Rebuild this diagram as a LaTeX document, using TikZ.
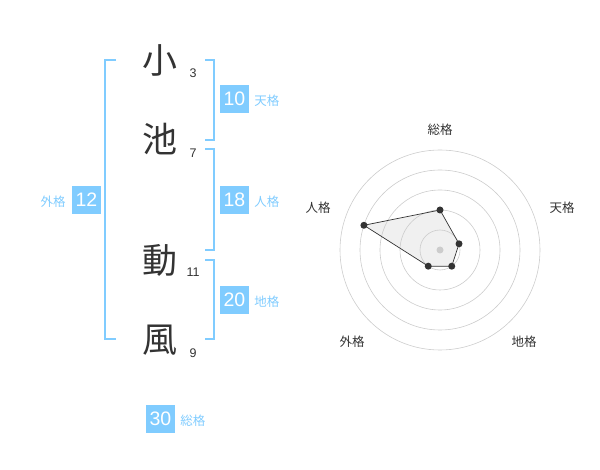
\documentclass[tikz,border=0pt]{standalone}
\usepackage{fontspec}
\setmainfont{Liberation Sans}
\newfontfamily\jpfont{Noto Sans CJK JP}
\usetikzlibrary{positioning}
\definecolor{kakublue}{HTML}{80CCFF}
\definecolor{inkgray}{HTML}{333333}
\tikzset{
  kanji/.style={font=\jpfont\fontsize{35}{35}\selectfont,text=inkgray,inner sep=0pt},
  strokes/.style={font=\fontsize{12.5}{12.5}\selectfont,text=inkgray,inner sep=0pt},
  kakubox/.style={fill=kakublue,text=white,minimum width=29pt,minimum height=28pt,inner sep=0pt,font=\fontsize{19.5}{19.5}\selectfont},
  kakulabel/.style={font=\jpfont\fontsize{12.5}{12.5}\selectfont,text=kakublue,inner sep=0pt},
  bracket/.style={draw=kakublue,line width=1.5pt},
  ring/.style={draw=black!20,line width=0.6pt},
  axislabel/.style={font=\jpfont\fontsize{12.5}{12.5}\selectfont,text=inkgray,inner sep=0pt},
  dot/.style={circle,fill=inkgray,inner sep=0pt,minimum size=7pt}
}
\begin{document}
\begin{tikzpicture}[x=1pt,y=-1pt]
    \useasboundingbox (0,0) rectangle (600,470);
    % name characters and stroke counts
    \node[kanji] (c1) at (160,60) {小};
    \node[kanji] (c2) at (160,139) {池};
    \node[kanji] (c3) at (160,260) {動};
    \node[kanji] (c4) at (160,340) {風};
    \node[strokes] (s1) at (193,73) {3};
    \node[strokes] (s2) at (193,153) {7};
    \node[strokes] (s3) at (193,272) {11};
    \node[strokes] (s4) at (193,353) {9};
    % brackets
    \draw[bracket] (116,60) -- (105,60) -- (105,339) -- (116,339);
    \draw[bracket] (205,60) -- (214,60) -- (214,140) -- (205,140);
    \draw[bracket] (205,149) -- (214,149) -- (214,250) -- (205,250);
    \draw[bracket] (205,260) -- (214,260) -- (214,339) -- (205,339);
    % scores
    \node[kakubox] (ten) at (234.5,99) {10};
    \node[kakulabel,right=5pt of ten,yshift=-2pt] (tenl) {天格};
    \node[kakubox] (jin) at (234.5,200) {18};
    \node[kakulabel,right=5pt of jin,yshift=-2pt] (jinl) {人格};
    \node[kakubox] (chi) at (234.5,300) {20};
    \node[kakulabel,right=5pt of chi,yshift=-2pt] (chil) {地格};
    \node[kakubox] (gai) at (86.5,200) {12};
    \node[kakulabel,left=6pt of gai,yshift=-2pt] (gail) {外格};
    \node[kakubox] (sou) at (160.5,419) {30};
    \node[kakulabel,right=5pt of sou,yshift=-2pt] (soul) {総格};
    % radar chart
    \coordinate (radar) at (440,250);
    \foreach \name/\ang/\val in {sou/-90/40,ten/-18/20,chi/54/20,gai/126/20,jin/198/80}
        \coordinate (p\name) at ([shift={(\ang:\val)}]radar);
    \fill[black!6] (psou) -- (pten) -- (pchi) -- (pgai) -- (pjin) -- cycle;
    \foreach \r in {20,40,...,100}
        \draw[ring] (radar) circle[radius=\r pt];
    \fill[black!20] (radar) circle[radius=3.5pt];
    \draw[inkgray,line width=0.7pt] (psou) -- (pten) -- (pchi) -- (pgai) -- (pjin) -- cycle;
    \foreach \name in {sou,ten,chi,gai,jin}
        \node[dot] (d\name) at (p\name) {};
    \node[axislabel] (asou) at (440,130) {総格};
    \node[axislabel] (aten) at (562,208) {天格};
    \node[axislabel] (achi) at (524,342) {地格};
    \node[axislabel] (agai) at (352,342) {外格};
    \node[axislabel] (ajin) at (318,208) {人格};
\end{tikzpicture}
\end{document}
